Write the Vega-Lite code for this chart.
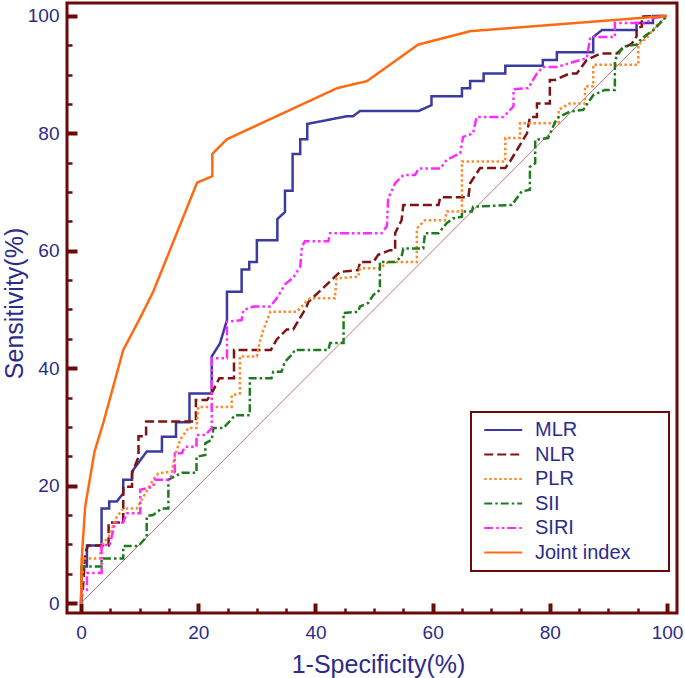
{
"$schema": "https://vega.github.io/schema/vega-lite/v6.json",
"width": 610, "height": 610,
"autosize": {"type": "none"},
"padding": {"left": 67, "top": 3, "right": 8, "bottom": 65},
"config": {"view": {"stroke": "#6b0a0a", "strokeWidth": 3}, "font": "Liberation Sans"},
"encoding": {
 "x": {"field": "x", "type": "quantitative", "scale": {"domain": [-2.4, 101.7], "nice": false, "zero": false},
  "axis": {"values": [0,5,10,15,20,25,30,35,40,45,50,55,60,65,70,75,80,85,90,95,100], "domain": false, "grid": false,
   "labelExpr": "datum.value % 20 === 0 ? datum.label : ''",
   "tickColor": "#6b0a0a",
   "tickSize": {"condition": {"test": "datum.value % 20 === 0", "value": -10}, "value": -5},
   "tickWidth": {"condition": {"test": "datum.value % 20 === 0", "value": 4}, "value": 2.5},
   "labelColor": "#2b2b8c", "labelFontSize": 19, "labelPadding": 20, "labelFlush": false, "labelOverlap": false,
   "title": "1-Specificity(%)", "titleFontSize": 25, "titleFontWeight": "normal", "titleColor": "#2b2b8c",
   "titleX": 311, "titleY": 59, "titleBaseline": "alphabetic"}},
 "y": {"field": "y", "type": "quantitative", "scale": {"domain": [-1.7, 102.2], "nice": false, "zero": false},
  "axis": {"values": [0,5,10,15,20,25,30,35,40,45,50,55,60,65,70,75,80,85,90,95,100], "domain": false, "grid": false,
   "labelExpr": "datum.value % 20 === 0 ? datum.label : ''",
   "tickColor": "#6b0a0a",
   "tickSize": {"condition": {"test": "datum.value % 20 === 0", "value": -10}, "value": -5},
   "tickWidth": {"condition": {"test": "datum.value % 20 === 0", "value": 4}, "value": 2.5},
   "labelColor": "#2b2b8c", "labelFontSize": 19, "labelPadding": 18, "labelFlush": false, "labelOverlap": false,
   "title": "Sensitivity(%)", "titleFontSize": 25, "titleFontWeight": "normal", "titleColor": "#2b2b8c",
   "titleX": -45, "titleY": 300, "titleBaseline": "alphabetic"}}
},
"layer": [
 {"data": {"values": [{"x": 0, "y": 0}, {"x": 100, "y": 100}]},
  "mark": {"type": "line", "color": "#b87878", "strokeWidth": 1}},
 {"data": {"values": [
{"s":"MLR","i":0,"x":0,"y":0},{"s":"MLR","i":1,"x":0.1,"y":6.2},{"s":"MLR","i":2,"x":1,"y":6.2},{"s":"MLR","i":3,"x":1,"y":9.8},{"s":"MLR","i":4,"x":3.5,"y":9.8},{"s":"MLR","i":5,"x":3.5,"y":16.1},{"s":"MLR","i":6,"x":4.8,"y":16.1},{"s":"MLR","i":7,"x":4.8,"y":17.3},{"s":"MLR","i":8,"x":6.1,"y":17.3},{"s":"MLR","i":9,"x":7.2,"y":18.7},{"s":"MLR","i":10,"x":7.2,"y":21},{"s":"MLR","i":11,"x":8.7,"y":21},{"s":"MLR","i":12,"x":8.7,"y":22.4},{"s":"MLR","i":13,"x":11.2,"y":25.8},{"s":"MLR","i":14,"x":13.8,"y":25.8},{"s":"MLR","i":15,"x":13.8,"y":28.3},{"s":"MLR","i":16,"x":16.2,"y":28.3},{"s":"MLR","i":17,"x":16.2,"y":30.8},{"s":"MLR","i":18,"x":18.5,"y":30.8},{"s":"MLR","i":19,"x":18.5,"y":35.7},{"s":"MLR","i":20,"x":22.3,"y":35.7},{"s":"MLR","i":21,"x":22.3,"y":42},{"s":"MLR","i":22,"x":23.7,"y":44.2},{"s":"MLR","i":23,"x":24.9,"y":48.2},{"s":"MLR","i":24,"x":24.9,"y":53},{"s":"MLR","i":25,"x":27.4,"y":53},{"s":"MLR","i":26,"x":27.4,"y":56.8},{"s":"MLR","i":27,"x":28.7,"y":56.8},{"s":"MLR","i":28,"x":28.7,"y":58.1},{"s":"MLR","i":29,"x":30,"y":58.1},{"s":"MLR","i":30,"x":30,"y":61.8},{"s":"MLR","i":31,"x":33.5,"y":61.8},{"s":"MLR","i":32,"x":33.5,"y":65.4},{"s":"MLR","i":33,"x":34.8,"y":66.6},{"s":"MLR","i":34,"x":34.8,"y":70.2},{"s":"MLR","i":35,"x":36.1,"y":70.2},{"s":"MLR","i":36,"x":36.1,"y":76.5},{"s":"MLR","i":37,"x":37.4,"y":76.5},{"s":"MLR","i":38,"x":37.4,"y":79},{"s":"MLR","i":39,"x":38.6,"y":79},{"s":"MLR","i":40,"x":38.6,"y":81.6},{"s":"MLR","i":41,"x":45.3,"y":82.9},{"s":"MLR","i":42,"x":46.4,"y":82.9},{"s":"MLR","i":43,"x":47.6,"y":83.8},{"s":"MLR","i":44,"x":57.6,"y":83.8},{"s":"MLR","i":45,"x":59.8,"y":84.8},{"s":"MLR","i":46,"x":59.8,"y":86.3},{"s":"MLR","i":47,"x":65,"y":86.3},{"s":"MLR","i":48,"x":65,"y":87.7},{"s":"MLR","i":49,"x":66.4,"y":87.7},{"s":"MLR","i":50,"x":66.4,"y":88.9},{"s":"MLR","i":51,"x":68.7,"y":88.9},{"s":"MLR","i":52,"x":68.7,"y":90.2},{"s":"MLR","i":53,"x":72.4,"y":90.2},{"s":"MLR","i":54,"x":72.4,"y":91.5},{"s":"MLR","i":55,"x":78.8,"y":91.5},{"s":"MLR","i":56,"x":78.8,"y":92.5},{"s":"MLR","i":57,"x":81.2,"y":92.5},{"s":"MLR","i":58,"x":81.2,"y":93.8},{"s":"MLR","i":59,"x":87.4,"y":93.8},{"s":"MLR","i":60,"x":87.4,"y":96.4},{"s":"MLR","i":61,"x":88.9,"y":97.6},{"s":"MLR","i":62,"x":94.8,"y":97.6},{"s":"MLR","i":63,"x":94.8,"y":98.8},{"s":"MLR","i":64,"x":97.6,"y":98.8},{"s":"MLR","i":65,"x":97.6,"y":100},{"s":"MLR","i":66,"x":100,"y":100},
{"s":"NLR","i":0,"x":0,"y":0},{"s":"NLR","i":1,"x":0.3,"y":2.2},{"s":"NLR","i":2,"x":0.7,"y":8.5},{"s":"NLR","i":3,"x":1.2,"y":9.8},{"s":"NLR","i":4,"x":4.7,"y":9.8},{"s":"NLR","i":5,"x":4.7,"y":13.7},{"s":"NLR","i":6,"x":7.2,"y":13.7},{"s":"NLR","i":7,"x":7.2,"y":19.8},{"s":"NLR","i":8,"x":8.7,"y":19.8},{"s":"NLR","i":9,"x":8.7,"y":22.1},{"s":"NLR","i":10,"x":9.8,"y":24.9},{"s":"NLR","i":11,"x":9.8,"y":28.4},{"s":"NLR","i":12,"x":11.1,"y":28.4},{"s":"NLR","i":13,"x":11.1,"y":30.9},{"s":"NLR","i":14,"x":19.6,"y":30.9},{"s":"NLR","i":15,"x":19.6,"y":34.6},{"s":"NLR","i":16,"x":21.5,"y":34.6},{"s":"NLR","i":17,"x":22.3,"y":35.7},{"s":"NLR","i":18,"x":23.6,"y":38.3},{"s":"NLR","i":19,"x":26.1,"y":38.3},{"s":"NLR","i":20,"x":26.1,"y":43.1},{"s":"NLR","i":21,"x":32.4,"y":43.1},{"s":"NLR","i":22,"x":33.4,"y":44.9},{"s":"NLR","i":23,"x":35.1,"y":46.6},{"s":"NLR","i":24,"x":36.2,"y":46.6},{"s":"NLR","i":25,"x":37.4,"y":48.6},{"s":"NLR","i":26,"x":38.5,"y":50.5},{"s":"NLR","i":27,"x":38.8,"y":51.3},{"s":"NLR","i":28,"x":44.2,"y":56.4},{"s":"NLR","i":29,"x":47.3,"y":56.7},{"s":"NLR","i":30,"x":47.6,"y":58.1},{"s":"NLR","i":31,"x":49.9,"y":58.1},{"s":"NLR","i":32,"x":50.7,"y":59.3},{"s":"NLR","i":33,"x":52.7,"y":60.1},{"s":"NLR","i":34,"x":53.6,"y":60.1},{"s":"NLR","i":35,"x":53.6,"y":63},{"s":"NLR","i":36,"x":54.7,"y":65.2},{"s":"NLR","i":37,"x":55,"y":67.8},{"s":"NLR","i":38,"x":61,"y":67.8},{"s":"NLR","i":39,"x":61.3,"y":69.1},{"s":"NLR","i":40,"x":66.1,"y":69.1},{"s":"NLR","i":41,"x":66.4,"y":71.5},{"s":"NLR","i":42,"x":68.1,"y":74.1},{"s":"NLR","i":43,"x":72.4,"y":74.1},{"s":"NLR","i":44,"x":73.2,"y":75.2},{"s":"NLR","i":45,"x":76.1,"y":80},{"s":"NLR","i":46,"x":76.6,"y":82.8},{"s":"NLR","i":47,"x":77.8,"y":82.8},{"s":"NLR","i":48,"x":77.8,"y":85.1},{"s":"NLR","i":49,"x":80,"y":85.1},{"s":"NLR","i":50,"x":80,"y":89.1},{"s":"NLR","i":51,"x":80.9,"y":89.1},{"s":"NLR","i":52,"x":83.4,"y":90.2},{"s":"NLR","i":53,"x":84.6,"y":90.2},{"s":"NLR","i":54,"x":86.3,"y":92.5},{"s":"NLR","i":55,"x":88.6,"y":93.6},{"s":"NLR","i":56,"x":91.4,"y":93.6},{"s":"NLR","i":57,"x":92.5,"y":94.5},{"s":"NLR","i":58,"x":94,"y":95.3},{"s":"NLR","i":59,"x":94.8,"y":96.5},{"s":"NLR","i":60,"x":94.8,"y":97.9},{"s":"NLR","i":61,"x":95.7,"y":98.2},{"s":"NLR","i":62,"x":95.7,"y":99.9},{"s":"NLR","i":63,"x":100,"y":100},
{"s":"PLR","i":0,"x":0,"y":0},{"s":"PLR","i":1,"x":0.4,"y":7.6},{"s":"PLR","i":2,"x":3.2,"y":7.6},{"s":"PLR","i":3,"x":3.5,"y":9.9},{"s":"PLR","i":4,"x":4.7,"y":11.3},{"s":"PLR","i":5,"x":6.1,"y":14.7},{"s":"PLR","i":6,"x":7.2,"y":16.1},{"s":"PLR","i":7,"x":9.5,"y":16.1},{"s":"PLR","i":8,"x":12.3,"y":21},{"s":"PLR","i":9,"x":13.2,"y":22.1},{"s":"PLR","i":10,"x":15.5,"y":22.4},{"s":"PLR","i":11,"x":16,"y":25},{"s":"PLR","i":12,"x":16.9,"y":27.8},{"s":"PLR","i":13,"x":18.3,"y":29.8},{"s":"PLR","i":14,"x":19.7,"y":29.8},{"s":"PLR","i":15,"x":20,"y":33.4},{"s":"PLR","i":16,"x":25.7,"y":33.4},{"s":"PLR","i":17,"x":25.7,"y":35.4},{"s":"PLR","i":18,"x":27.1,"y":35.7},{"s":"PLR","i":19,"x":27.1,"y":42},{"s":"PLR","i":20,"x":30,"y":42},{"s":"PLR","i":21,"x":30.5,"y":44.5},{"s":"PLR","i":22,"x":31.1,"y":46.5},{"s":"PLR","i":23,"x":32.3,"y":49.6},{"s":"PLR","i":24,"x":36.8,"y":49.6},{"s":"PLR","i":25,"x":38.2,"y":51.1},{"s":"PLR","i":26,"x":39.1,"y":51.9},{"s":"PLR","i":27,"x":43.3,"y":51.9},{"s":"PLR","i":28,"x":43.6,"y":55.3},{"s":"PLR","i":29,"x":47.3,"y":55.6},{"s":"PLR","i":30,"x":47.6,"y":57},{"s":"PLR","i":31,"x":51,"y":57},{"s":"PLR","i":32,"x":52.4,"y":58.1},{"s":"PLR","i":33,"x":57.3,"y":58.1},{"s":"PLR","i":34,"x":57.3,"y":63.8},{"s":"PLR","i":35,"x":58.7,"y":65.2},{"s":"PLR","i":36,"x":62.1,"y":65.2},{"s":"PLR","i":37,"x":62.4,"y":66.7},{"s":"PLR","i":38,"x":65,"y":66.7},{"s":"PLR","i":39,"x":65,"y":75.2},{"s":"PLR","i":40,"x":72.4,"y":75.2},{"s":"PLR","i":41,"x":72.4,"y":79.2},{"s":"PLR","i":42,"x":74.9,"y":79.2},{"s":"PLR","i":43,"x":74.9,"y":81.7},{"s":"PLR","i":44,"x":81.5,"y":81.7},{"s":"PLR","i":45,"x":81.5,"y":84},{"s":"PLR","i":46,"x":83.4,"y":85.1},{"s":"PLR","i":47,"x":86,"y":85.1},{"s":"PLR","i":48,"x":86,"y":88},{"s":"PLR","i":49,"x":87.4,"y":88},{"s":"PLR","i":50,"x":87.4,"y":91.7},{"s":"PLR","i":51,"x":95.1,"y":91.7},{"s":"PLR","i":52,"x":95.1,"y":95.1},{"s":"PLR","i":53,"x":96.5,"y":96.2},{"s":"PLR","i":54,"x":98.2,"y":98.4},{"s":"PLR","i":55,"x":100,"y":100},
{"s":"SII","i":0,"x":0,"y":0},{"s":"SII","i":1,"x":0.1,"y":6.2},{"s":"SII","i":2,"x":3.5,"y":6.2},{"s":"SII","i":3,"x":3.5,"y":7.6},{"s":"SII","i":4,"x":7.2,"y":7.6},{"s":"SII","i":5,"x":7.2,"y":9.7},{"s":"SII","i":6,"x":9.8,"y":9.7},{"s":"SII","i":7,"x":11.2,"y":11.3},{"s":"SII","i":8,"x":11.2,"y":14.8},{"s":"SII","i":9,"x":12.3,"y":15},{"s":"SII","i":10,"x":13.8,"y":16.1},{"s":"SII","i":11,"x":14.9,"y":16.1},{"s":"SII","i":12,"x":14.9,"y":21},{"s":"SII","i":13,"x":17.2,"y":22.2},{"s":"SII","i":14,"x":19.7,"y":22.2},{"s":"SII","i":15,"x":19.7,"y":24.9},{"s":"SII","i":16,"x":21.2,"y":25.2},{"s":"SII","i":17,"x":21.2,"y":27.2},{"s":"SII","i":18,"x":22.3,"y":27.8},{"s":"SII","i":19,"x":22.6,"y":29.8},{"s":"SII","i":20,"x":24.3,"y":29.8},{"s":"SII","i":21,"x":26.3,"y":32},{"s":"SII","i":22,"x":28.8,"y":32},{"s":"SII","i":23,"x":28.8,"y":38.3},{"s":"SII","i":24,"x":32.5,"y":38.3},{"s":"SII","i":25,"x":32.8,"y":39.4},{"s":"SII","i":26,"x":34.2,"y":39.4},{"s":"SII","i":27,"x":34.8,"y":41.1},{"s":"SII","i":28,"x":36.2,"y":42.5},{"s":"SII","i":29,"x":36.4,"y":43.1},{"s":"SII","i":30,"x":42.2,"y":43.1},{"s":"SII","i":31,"x":42.5,"y":44.3},{"s":"SII","i":32,"x":44.8,"y":44.3},{"s":"SII","i":33,"x":44.8,"y":49.4},{"s":"SII","i":34,"x":47.3,"y":49.6},{"s":"SII","i":35,"x":47.6,"y":50.5},{"s":"SII","i":36,"x":49,"y":51.1},{"s":"SII","i":37,"x":49.9,"y":52.5},{"s":"SII","i":38,"x":51,"y":53.3},{"s":"SII","i":39,"x":51,"y":58.1},{"s":"SII","i":40,"x":53.6,"y":58.1},{"s":"SII","i":41,"x":54.7,"y":59},{"s":"SII","i":42,"x":55,"y":60.4},{"s":"SII","i":43,"x":58.4,"y":60.4},{"s":"SII","i":44,"x":58.7,"y":63},{"s":"SII","i":45,"x":61,"y":63},{"s":"SII","i":46,"x":62.4,"y":64.7},{"s":"SII","i":47,"x":63.5,"y":65.5},{"s":"SII","i":48,"x":65,"y":65.8},{"s":"SII","i":49,"x":65,"y":66.7},{"s":"SII","i":50,"x":66.7,"y":66.7},{"s":"SII","i":51,"x":66.9,"y":67.5},{"s":"SII","i":52,"x":73.5,"y":67.8},{"s":"SII","i":53,"x":75.2,"y":70.1},{"s":"SII","i":54,"x":76.6,"y":70.4},{"s":"SII","i":55,"x":76.6,"y":74.3},{"s":"SII","i":56,"x":77.5,"y":74.9},{"s":"SII","i":57,"x":77.5,"y":78.9},{"s":"SII","i":58,"x":79.7,"y":79.2},{"s":"SII","i":59,"x":81.2,"y":82.6},{"s":"SII","i":60,"x":83.4,"y":83.7},{"s":"SII","i":61,"x":85.7,"y":84},{"s":"SII","i":62,"x":87.4,"y":86.5},{"s":"SII","i":63,"x":89.4,"y":87.4},{"s":"SII","i":64,"x":91.1,"y":87.4},{"s":"SII","i":65,"x":91.1,"y":92.5},{"s":"SII","i":66,"x":92.5,"y":94.8},{"s":"SII","i":67,"x":94.8,"y":95.1},{"s":"SII","i":68,"x":95.7,"y":96.2},{"s":"SII","i":69,"x":97.7,"y":97.6},{"s":"SII","i":70,"x":100,"y":100},
{"s":"SIRI","i":0,"x":0,"y":0},{"s":"SIRI","i":1,"x":0.1,"y":2.2},{"s":"SIRI","i":2,"x":1,"y":2.2},{"s":"SIRI","i":3,"x":1,"y":5.1},{"s":"SIRI","i":4,"x":3.5,"y":5.1},{"s":"SIRI","i":5,"x":3.5,"y":9.9},{"s":"SIRI","i":6,"x":4.9,"y":9.9},{"s":"SIRI","i":7,"x":5.8,"y":13.7},{"s":"SIRI","i":8,"x":7.2,"y":13.7},{"s":"SIRI","i":9,"x":7.8,"y":15.3},{"s":"SIRI","i":10,"x":10.1,"y":15.3},{"s":"SIRI","i":11,"x":10.1,"y":19.3},{"s":"SIRI","i":12,"x":12.3,"y":19.8},{"s":"SIRI","i":13,"x":12.6,"y":21},{"s":"SIRI","i":14,"x":14.9,"y":21},{"s":"SIRI","i":15,"x":16,"y":22.4},{"s":"SIRI","i":16,"x":16,"y":25.5},{"s":"SIRI","i":17,"x":17.2,"y":25.5},{"s":"SIRI","i":18,"x":17.7,"y":26.6},{"s":"SIRI","i":19,"x":19.7,"y":26.6},{"s":"SIRI","i":20,"x":19.7,"y":28.6},{"s":"SIRI","i":21,"x":21.2,"y":28.6},{"s":"SIRI","i":22,"x":22.3,"y":29.8},{"s":"SIRI","i":23,"x":22.3,"y":41.7},{"s":"SIRI","i":24,"x":24.9,"y":41.7},{"s":"SIRI","i":25,"x":24.9,"y":47.9},{"s":"SIRI","i":26,"x":27.4,"y":48.2},{"s":"SIRI","i":27,"x":27.7,"y":49.9},{"s":"SIRI","i":28,"x":29.4,"y":50.5},{"s":"SIRI","i":29,"x":32.3,"y":50.5},{"s":"SIRI","i":30,"x":33.4,"y":51.9},{"s":"SIRI","i":31,"x":34.8,"y":54.3},{"s":"SIRI","i":32,"x":36.2,"y":55.4},{"s":"SIRI","i":33,"x":37.4,"y":57.3},{"s":"SIRI","i":34,"x":37.7,"y":60.7},{"s":"SIRI","i":35,"x":38.2,"y":61.6},{"s":"SIRI","i":36,"x":42.2,"y":61.6},{"s":"SIRI","i":37,"x":42.5,"y":63},{"s":"SIRI","i":38,"x":51.3,"y":63},{"s":"SIRI","i":39,"x":52.2,"y":64.2},{"s":"SIRI","i":40,"x":52.4,"y":68.9},{"s":"SIRI","i":41,"x":53.6,"y":71.5},{"s":"SIRI","i":42,"x":55,"y":72.9},{"s":"SIRI","i":43,"x":57,"y":72.9},{"s":"SIRI","i":44,"x":57.6,"y":74},{"s":"SIRI","i":45,"x":61.3,"y":74},{"s":"SIRI","i":46,"x":62.4,"y":75.5},{"s":"SIRI","i":47,"x":64.7,"y":76.6},{"s":"SIRI","i":48,"x":65.2,"y":79.4},{"s":"SIRI","i":49,"x":66.9,"y":80},{"s":"SIRI","i":50,"x":67.5,"y":82.8},{"s":"SIRI","i":51,"x":72.1,"y":82.8},{"s":"SIRI","i":52,"x":73.8,"y":84.6},{"s":"SIRI","i":53,"x":73.8,"y":87.5},{"s":"SIRI","i":54,"x":76.3,"y":87.7},{"s":"SIRI","i":55,"x":77.8,"y":90.2},{"s":"SIRI","i":56,"x":78.8,"y":91.3},{"s":"SIRI","i":57,"x":81.2,"y":91.3},{"s":"SIRI","i":58,"x":85.2,"y":92.5},{"s":"SIRI","i":59,"x":86.3,"y":92.8},{"s":"SIRI","i":60,"x":86.9,"y":96.4},{"s":"SIRI","i":61,"x":91.1,"y":96.4},{"s":"SIRI","i":62,"x":91.1,"y":98.8},{"s":"SIRI","i":63,"x":96.5,"y":98.8},{"s":"SIRI","i":64,"x":97.4,"y":99.6},{"s":"SIRI","i":65,"x":100,"y":100},
{"s":"Joint index","i":0,"x":0,"y":0},{"s":"Joint index","i":1,"x":0.1,"y":7.3},{"s":"Joint index","i":2,"x":0.7,"y":16.4},{"s":"Joint index","i":3,"x":2.3,"y":25.8},{"s":"Joint index","i":4,"x":3.8,"y":30.7},{"s":"Joint index","i":5,"x":7.2,"y":43.1},{"s":"Joint index","i":6,"x":10.1,"y":48.6},{"s":"Joint index","i":7,"x":12.3,"y":53},{"s":"Joint index","i":8,"x":19.8,"y":71.6},{"s":"Joint index","i":9,"x":22.4,"y":72.7},{"s":"Joint index","i":10,"x":22.4,"y":76.5},{"s":"Joint index","i":11,"x":24.9,"y":79},{"s":"Joint index","i":12,"x":43.7,"y":87.7},{"s":"Joint index","i":13,"x":48.8,"y":88.9},{"s":"Joint index","i":14,"x":57.5,"y":95.1},{"s":"Joint index","i":15,"x":66.4,"y":97.4},{"s":"Joint index","i":16,"x":100,"y":100}
  ]},
  "mark": {"type": "line", "strokeWidth": 2.5},
  "encoding": {
   "order": {"field": "i", "type": "quantitative"},
   "color": {"field": "s", "type": "nominal",
    "scale": {"domain": ["MLR","NLR","PLR","SII","SIRI","Joint index"], "range": ["#3a3aa0","#7d1414","#ff8a2a","#1f7a1f","#ff2aff","#ff6a10"]},
    "legend": {"title": null, "orient": "none", "legendX": 404, "legendY": 409, "padding": 8, "rowPadding": 4.5,
     "strokeColor": "#6b0a0a", "fillColor": "white", "symbolType": "M-1,0H7", "symbolSize": 90, "symbolStrokeWidth": 2,
     "labelFontSize": 20, "labelColor": "#2b2b8c", "labelOffset": 36, "labelExpr": "datum.label + '\u2800\u2800'", "symbolLimit": 0,
     "encode": {"legend": {"update": {"strokeWidth": {"value": 2}}}}}},
   "strokeDash": {"field": "s", "type": "nominal",
    "scale": {"domain": ["MLR","NLR","PLR","SII","SIRI","Joint index"], "range": [[1,0],[9,4],[2.5,2.5],[8,3,2.5,3],[9,3,2.5,3,2.5,3],[1,0]]}}
  }}
]
}
